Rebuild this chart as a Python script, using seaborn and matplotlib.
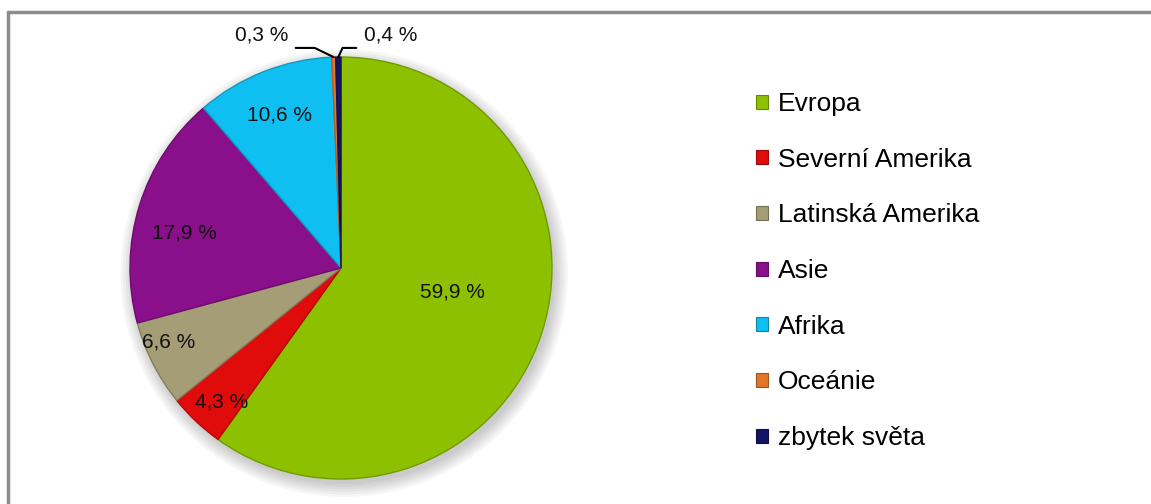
import matplotlib
matplotlib.use("Agg")
import numpy as np
import seaborn as sns
import matplotlib.pyplot as plt
from matplotlib.patches import Patch, Circle
from matplotlib.lines import Line2D
from matplotlib.colors import to_rgb

regions = ["Evropa", "Severní Amerika", "Latinská Amerika", "Asie",
           "Afrika", "Oceánie", "zbytek světa"]
shares = [59.9, 4.3, 6.6, 17.9, 10.6, 0.3, 0.4]
colors = ["#8dc100", "#e00c0c", "#a59d76", "#8a0f8a", "#10bff2", "#e0762a", "#141466"]

sns.set_theme(style="white")
plt.rcParams["font.family"] = ["Liberation Sans", "DejaVu Sans"]
plt.rcParams["text.color"] = "black"

fig = plt.figure(figsize=(11.51, 5.04), dpi=100)
W, H = 1151, 504

# pie centre and radius in pixels
cx, cy, r = 341, 268, 211
ax = fig.add_axes([(cx - r) / W, (H - cy - r) / H, 2 * r / W, 2 * r / H])

# soft shadow under the pie
for k in range(6):
    ax.add_patch(Circle((0.015, -0.025), 1.0 + 0.012 * k, color="black",
                        alpha=0.035, lw=0, zorder=0, clip_on=False))

def darker(c, f=0.8):
    return tuple(v * f for v in to_rgb(c))

wedges, _ = ax.pie(shares, colors=colors, startangle=90, counterclock=False,
                   radius=1)
for w, c in zip(wedges, colors):
    w.set_edgecolor(darker(c))
    w.set_linewidth(1.0)
    w.set_zorder(2)
    w.set_clip_on(False)
ax.set_xlim(-1, 1)
ax.set_ylim(-1, 1)
ax.set_aspect("equal")
ax.axis("off")

def fmt(v):
    return f"{v:.1f}".replace(".", ",") + " %"

# inside labels (radius as fraction, angle shift from slice middle)
inside_r = [0.54, 0.85, 0.89, 0.76, 0.78]
inside_shift = [5.6, 1.7, -3.8, 4.5, 0.4]
for i, w in enumerate(wedges[:5]):
    ang = np.deg2rad((w.theta1 + w.theta2) / 2 + inside_shift[i])
    rr = inside_r[i]
    ax.text(rr * np.cos(ang), rr * np.sin(ang), fmt(shares[i]),
            ha="center", va="center", fontsize=15, color="#111111", zorder=5)

# small slices with leader lines
leader = {5: (-0.09, -0.18, -0.16), 6: (0.02, 0.085, 0.165)}
for i, (d1, d2, dt) in leader.items():
    w = wedges[i]
    ang = np.deg2rad((w.theta1 + w.theta2) / 2)
    x0, y0 = np.cos(ang), np.sin(ang)
    x1, x2, yl = x0 + d1, x0 + d2, 1.043
    ax.add_line(Line2D([x0, x1, x2], [y0, yl, yl], color="black",
                       lw=1.5, clip_on=False))
    ax.text(x2 + dt, 1.104, fmt(shares[i]), ha="center", va="center",
            fontsize=15, color="#111111", clip_on=False)

# legend
handles = [Patch(facecolor=c, edgecolor=darker(c, 0.7), lw=0.8) for c in colors]
fig.legend(handles, regions, loc="upper left", bbox_to_anchor=(756 / W, 1 - 92 / H),
           frameon=False, fontsize=19, handlelength=0.45, handleheight=0.45,
           handletextpad=0.38, labelspacing=1.2, borderpad=0, borderaxespad=0,
           labelcolor="black")

# chart frame (top and left visible)
fig.add_artist(Line2D([8 / W, 1], [1 - 12 / H, 1 - 12 / H], color="#8c8c8c", lw=2.5))
fig.add_artist(Line2D([8 / W, 8 / W], [0, 1 - 12 / H], color="#8c8c8c", lw=2.5))

fig.savefig("out.png", dpi=100, facecolor="white")
